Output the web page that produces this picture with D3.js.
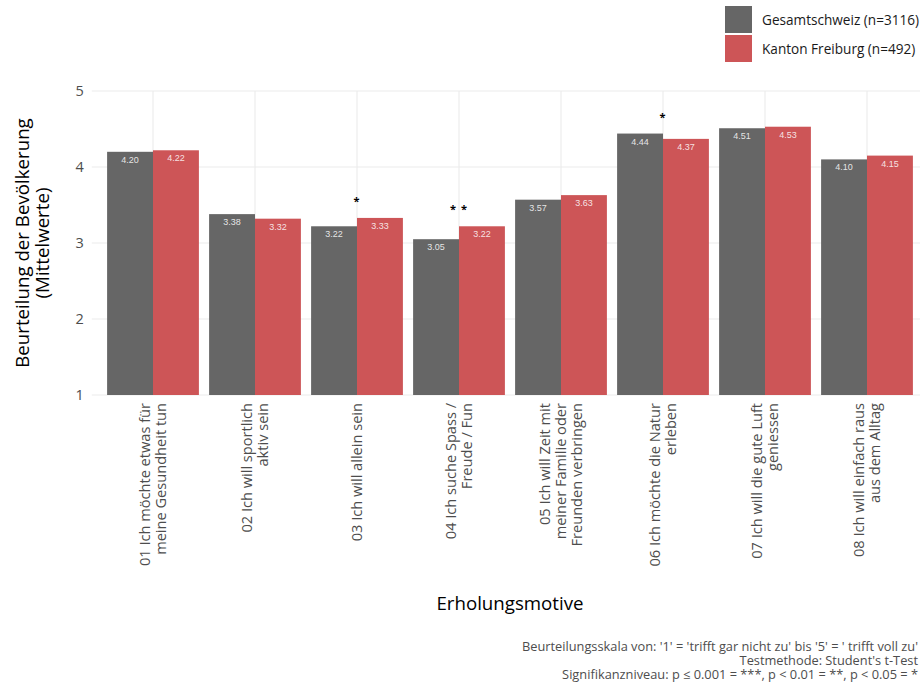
<!DOCTYPE html>
<html>
<head>
<meta charset="utf-8">
<script src="https://cdn.jsdelivr.net/npm/d3@7/dist/d3.min.js"></script>
<style>
  html, body { margin: 0; padding: 0; background: #fff; }
  svg { display: block; }
</style>
</head>
<body>
<svg id="chart" width="920" height="685"></svg>
<script>
// Recreation motives, mean ratings (scale 1–5)
const categories = [
  ["01 Ich möchte etwas für", "meine Gesundheit tun"],
  ["02 Ich will sportlich", "aktiv sein"],
  ["03 Ich will allein sein"],
  ["04 Ich suche Spass /", "Freude / Fun"],
  ["05 Ich will Zeit mit", "meiner Familie oder", "Freunden verbringen"],
  ["06 Ich möchte die Natur", "erleben"],
  ["07 Ich will die gute Luft", "geniessen"],
  ["08 Ich will einfach raus", "aus dem Alltag"]
];
const seriesNames = ["Gesamtschweiz (n=3116)", "Kanton Freiburg (n=492)"];
const gesamtschweiz = [4.20, 3.38, 3.22, 3.05, 3.57, 4.44, 4.51, 4.10];
const freiburg      = [4.22, 3.32, 3.33, 3.22, 3.63, 4.37, 4.53, 4.15];
const significance  = ["", "", "*", "* *", "", "*", "", ""];
const yTicks = [1, 2, 3, 4, 5];
const seriesColors = ["#666666", "#cd5557"];
const captionLines = [
  "Beurteilungsskala von: '1' = 'trifft gar nicht zu' bis '5' = ' trifft voll zu'",
  "Testmethode: Student's t-Test",
  "Signifikanzniveau: p \u2264 0.001 = ***, p < 0.01 = **, p < 0.05 = *"
];

const svg = d3.select("#chart");
const FONT = "'Open Sans', 'Noto Sans', sans-serif";
const panel = { left: 91.8, right: 928.2, top: 91, bottom: 395 };

const keys = categories.map((d, i) => "c" + i);
const x = d3.scalePoint().domain(keys).range([panel.left, panel.right]).padding(0.6);
const step = x.step();
const xInner = d3.scaleBand().domain([0, 1]).range([-0.45 * step, 0.45 * step]);
const y = d3.scaleLinear().domain([1, 5]).range([panel.bottom, panel.top]);

// grid
const grid = svg.append("g");
grid.selectAll("line.h").data(yTicks).join("line")
  .attr("x1", panel.left).attr("x2", panel.right)
  .attr("y1", d => y(d)).attr("y2", d => y(d))
  .attr("stroke", "#ebebeb").attr("stroke-width", 1.1);
grid.selectAll("line.v").data(keys).join("line")
  .attr("x1", d => x(d)).attr("x2", d => x(d))
  .attr("y1", panel.top).attr("y2", panel.bottom)
  .attr("stroke", "#ebebeb").attr("stroke-width", 1.1);

// y axis
const yAxis = svg.append("g")
  .attr("transform", `translate(${panel.left},0)`)
  .call(d3.axisLeft(y).tickValues(yTicks).tickFormat(d3.format("d")).tickSize(0).tickPadding(8));
yAxis.select(".domain").remove();
yAxis.selectAll("text").attr("font-family", FONT).attr("font-size", 14.5).attr("fill", "#4d4d4d");

// bars
const rows = keys.map((k, i) => ({ k, vals: [gesamtschweiz[i], freiburg[i]] }));
const groups = svg.append("g").selectAll("g").data(rows).join("g")
  .attr("transform", d => `translate(${x(d.k)},0)`);
groups.selectAll("rect").data(d => d.vals).join("rect")
  .attr("x", (v, j) => xInner(j))
  .attr("width", xInner.bandwidth())
  .attr("y", v => y(v))
  .attr("height", v => y(1) - y(v))
  .attr("fill", (v, j) => seriesColors[j]);
groups.selectAll("text.val").data(d => d.vals).join("text")
  .attr("class", "val")
  .attr("x", (v, j) => xInner(j) + xInner.bandwidth() / 2)
  .attr("y", v => y(v) + 11)
  .attr("text-anchor", "middle")
  .attr("font-family", "'Liberation Sans', Arial, sans-serif")
  .attr("font-size", 9)
  .attr("fill", "#ffffff").attr("fill-opacity", 0.85)
  .text(v => v.toFixed(2));

// significance markers
svg.append("g").selectAll("text").data(rows).join("text")
  .attr("x", d => x(d.k))
  .attr("y", d => y(d3.max(d.vals) + 0.25) + 6)
  .attr("text-anchor", "middle")
  .attr("font-family", FONT).attr("font-size", 11).attr("font-weight", 700)
  .attr("letter-spacing", 1).attr("fill", "#000")
  .text((d, i) => significance[i]);

// x tick labels (rotated, right-aligned lines)
const xl = svg.append("g").selectAll("text").data(rows).join("text")
  .attr("transform", d => `translate(${x(d.k)},403) rotate(-90)`)
  .attr("text-anchor", "end")
  .attr("font-family", FONT).attr("font-size", 14.6).attr("fill", "#4d4d4d");
const LH = 15.8;
xl.each(function (d, i) {
  const lines = categories[i];
  const n = lines.length;
  d3.select(this).selectAll("tspan").data(lines).join("tspan")
    .attr("x", 0)
    .attr("y", (l, j) => (j - (n - 1) / 2) * LH + 5.2)
    .text(l => l);
});

// axis titles
const yTitle = svg.append("text")
  .attr("transform", `translate(0,${(panel.top + panel.bottom) / 2}) rotate(-90)`)
  .attr("text-anchor", "middle")
  .attr("font-family", FONT).attr("font-size", 18.7).attr("fill", "#000");
yTitle.append("tspan").attr("x", 0).attr("y", 28.5).text("Beurteilung der Bevölkerung");
yTitle.append("tspan").attr("x", 0).attr("y", 48.5).text("(Mittelwerte)");

svg.append("text")
  .attr("x", (panel.left + panel.right) / 2).attr("y", 609.5)
  .attr("text-anchor", "middle")
  .attr("font-family", FONT).attr("font-size", 18.7).attr("fill", "#000")
  .text("Erholungsmotive");

// caption: one multi-line text block, right-aligned
svg.append("text")
  .attr("text-anchor", "end")
  .attr("font-family", FONT).attr("font-size", 12.8).attr("fill", "#4d4d4d")
  .selectAll("tspan").data(captionLines).join("tspan")
  .attr("x", 918).attr("y", (d, i) => 650.5 + i * 14)
  .text(d => d);

// legend
const legend = svg.append("g").selectAll("g").data(seriesNames).join("g")
  .attr("transform", (d, i) => `translate(725,${6 + i * 29})`);
legend.append("rect").attr("width", 27).attr("height", 27)
  .attr("fill", (d, i) => seriesColors[i]);
legend.append("text").attr("x", 37).attr("y", 18.8)
  .attr("font-family", FONT).attr("font-size", 13.6).attr("fill", "#1a1a1a")
  .text(d => d);
</script>
</body>
</html>
